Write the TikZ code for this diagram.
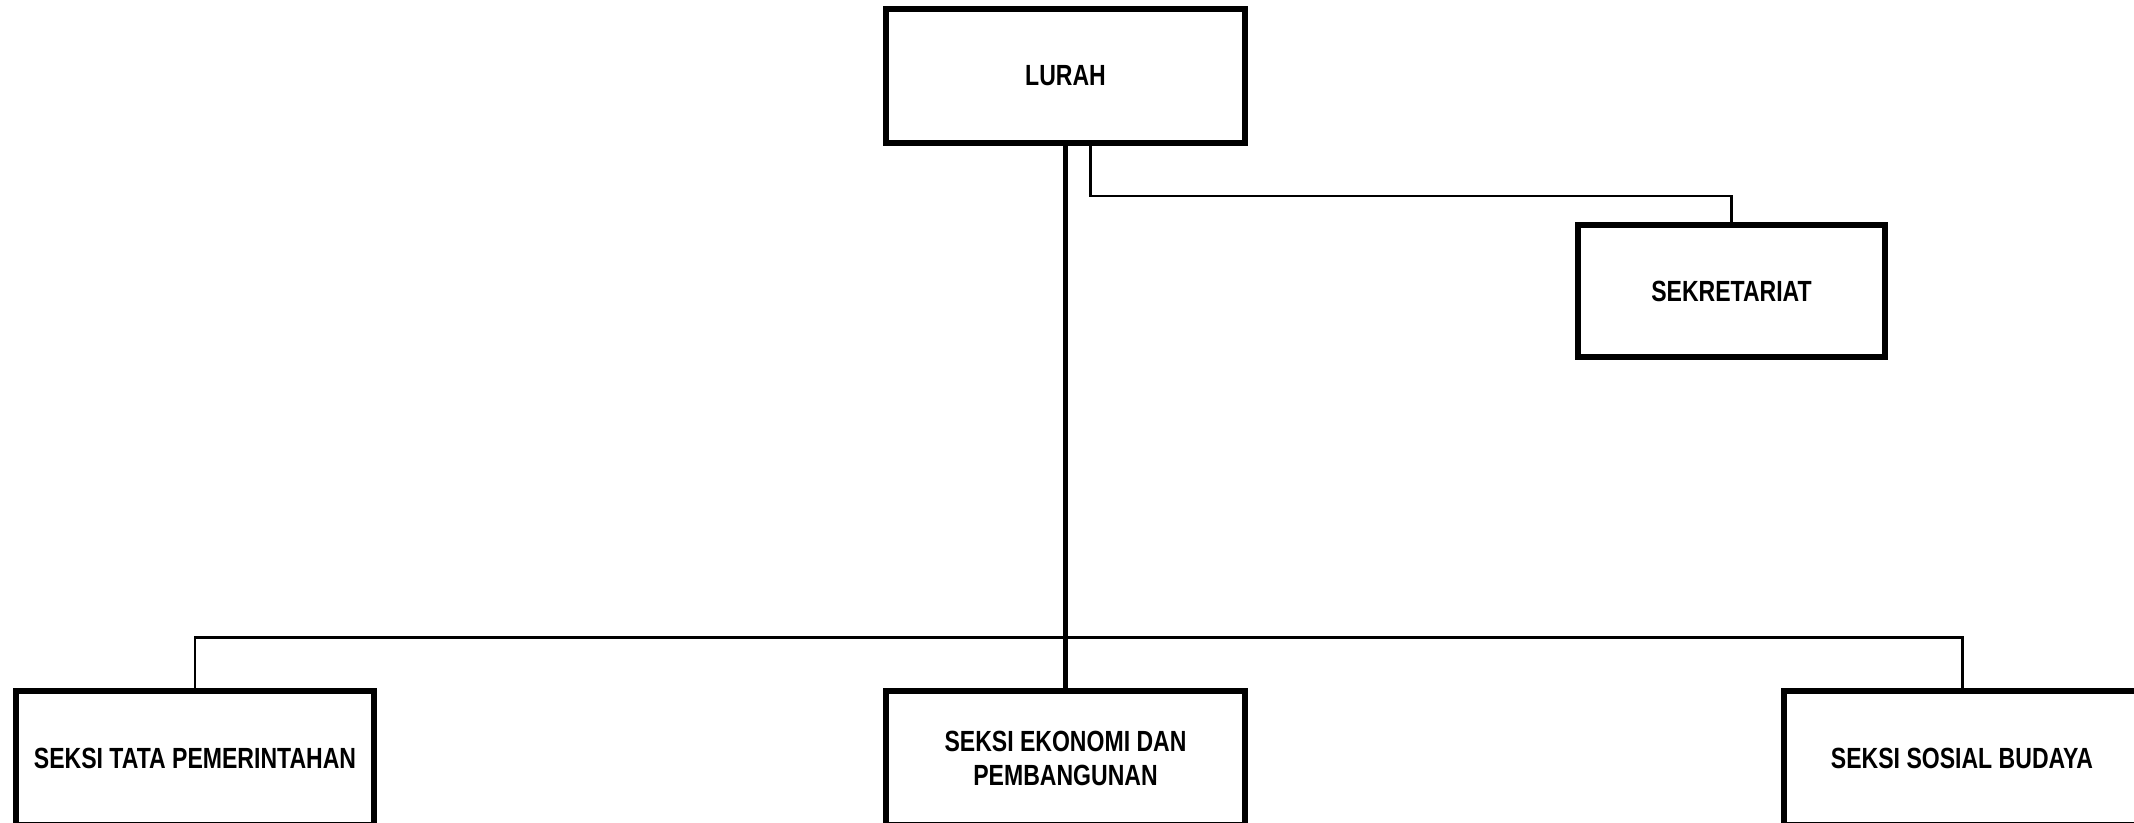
\documentclass[tikz,border=0pt]{standalone}
\usepackage{fontspec}
\setmainfont[FakeStretch=0.79]{Liberation Sans}
\begin{document}
\begin{tikzpicture}[
  unit/.style={draw, line width=1.7pt, minimum width=3.59cm, minimum height=1.34cm,
    inner sep=0pt, align=center, font=\bfseries\fontsize{8.3}{9.7}\selectfont},
  link/.style={line width=0.85pt}]
\useasboundingbox (0,0) rectangle (21.34,-8.23);
% boxes
\node[unit] (lurah) at (10.655,-0.76) {LURAH};
\node[unit, minimum width=3.07cm, minimum height=1.32cm] (sekre) at (17.315,-2.91) {SEKRETARIAT};
\node[unit, minimum width=3.58cm] (tata) at (1.95,-7.58) {SEKSI TATA PEMERINTAHAN};
\node[unit] (ekonomi) at (10.655,-7.58) {SEKSI EKONOMI DAN\\PEMBANGUNAN};
\node[unit, minimum width=3.56cm] (sosial) at (19.62,-7.58) {SEKSI SOSIAL BUDAYA};
% lines
\coordinate (bus) at (0,-6.37);
\coordinate (staf) at (0,-1.96);
\draw[line width=1.15pt] (lurah.south) -- (ekonomi.north);
\draw[link] ([xshift=2.5mm]lurah.south) -- ([xshift=2.5mm]lurah.south |- staf) -- (sekre.north |- staf) -- (sekre.north);
\draw[link] (tata.north) -- (tata.north |- bus) -- (sosial.north |- bus) -- (sosial.north);
\end{tikzpicture}
\end{document}
